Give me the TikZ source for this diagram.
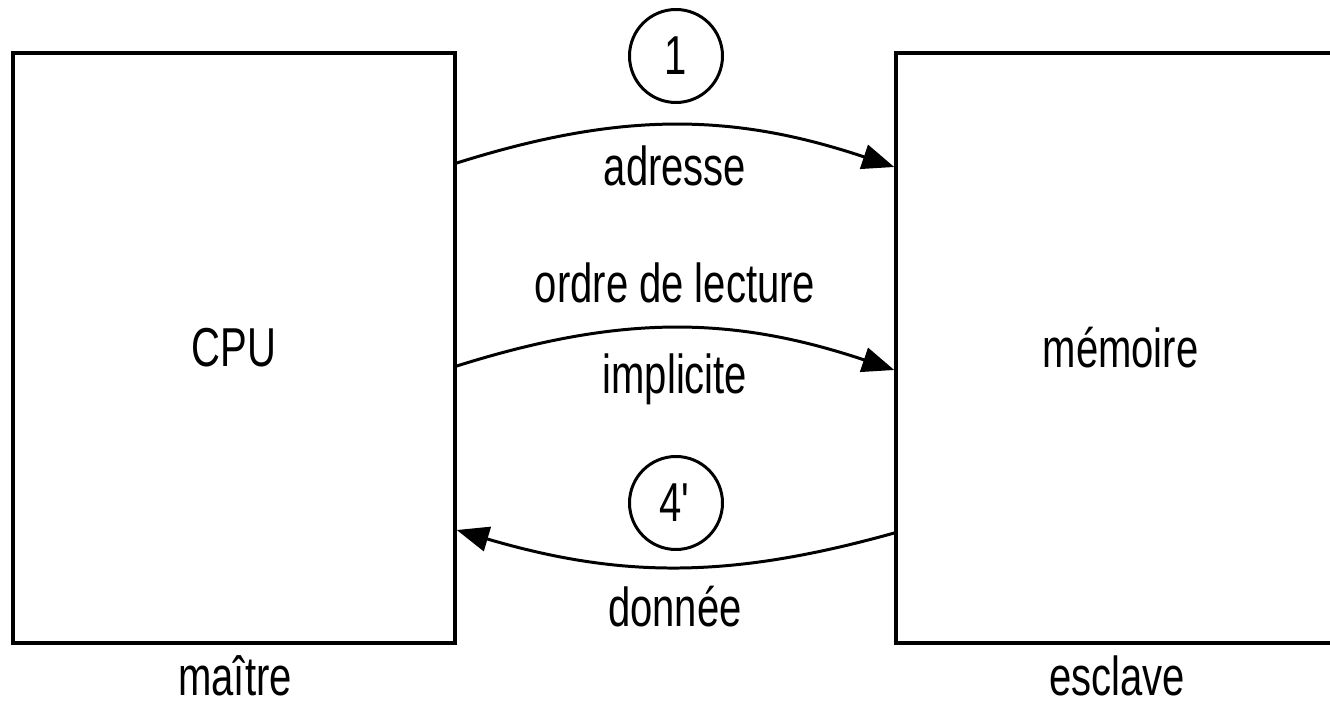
\documentclass[tikz,border=0pt]{standalone}
\usepackage{fontspec}
\setmainfont{Liberation Sans}[FakeStretch=0.73]
\usepackage{tikz}
\usetikzlibrary{arrows.meta}
\usetikzlibrary{positioning}
\usetikzlibrary{shapes}

\tikzset{
	txt/.style={font=\fontsize{15.6pt}{18pt}\selectfont},
	boite/.style={rectangle,draw,line width=1pt,minimum height=5.9cm,txt},
	num/.style={circle,draw,line width=0.85pt,minimum size=0.93cm,inner sep=0pt,txt},
	fleche/.style={-{Triangle[length=0.32cm,width=0.25cm]},line width=0.85pt}
}

\begin{document}
\begin{tikzpicture}
	\useasboundingbox (0,0) rectangle (13.3,7.04);
	\node[boite,minimum width=4.42cm] (CPU) at (2.34,3.56) {CPU};
	\node[boite,minimum width=4.49cm] (Memoire) at (11.205,3.56) {mémoire};
	\node[txt,anchor=base] (Maitre) at (2.35,0.08) {maître};
	\node[txt,anchor=base] (Esclave) at (11.17,0.08) {esclave};
	\node[num] (Un) at (6.76,6.48) {1};
	\node[num] (QuatreP) at (6.76,2.01) {4\textquotesingle};
	\draw[fleche] ([yshift=1.85cm]CPU.east) to[bend left=18] ([yshift=1.81cm]Memoire.west);
	\draw[fleche] ([yshift=-0.18cm]CPU.east) to[bend left=18] ([yshift=-0.22cm]Memoire.west);
	\draw[fleche] ([yshift=-1.85cm]Memoire.west) to[bend left=16] ([yshift=-1.82cm]CPU.east);
	\node[txt,anchor=base] (Adresse) at (6.75,5.18) {adresse};
	\node[txt,anchor=base] (Ordre) at (6.75,4.01) {ordre de lecture};
	\node[txt,anchor=base] (Implicite) at (6.75,3.10) {implicite};
	\node[txt,anchor=base] (Donnee) at (6.75,0.77) {donnée};
\end{tikzpicture}
\end{document}
